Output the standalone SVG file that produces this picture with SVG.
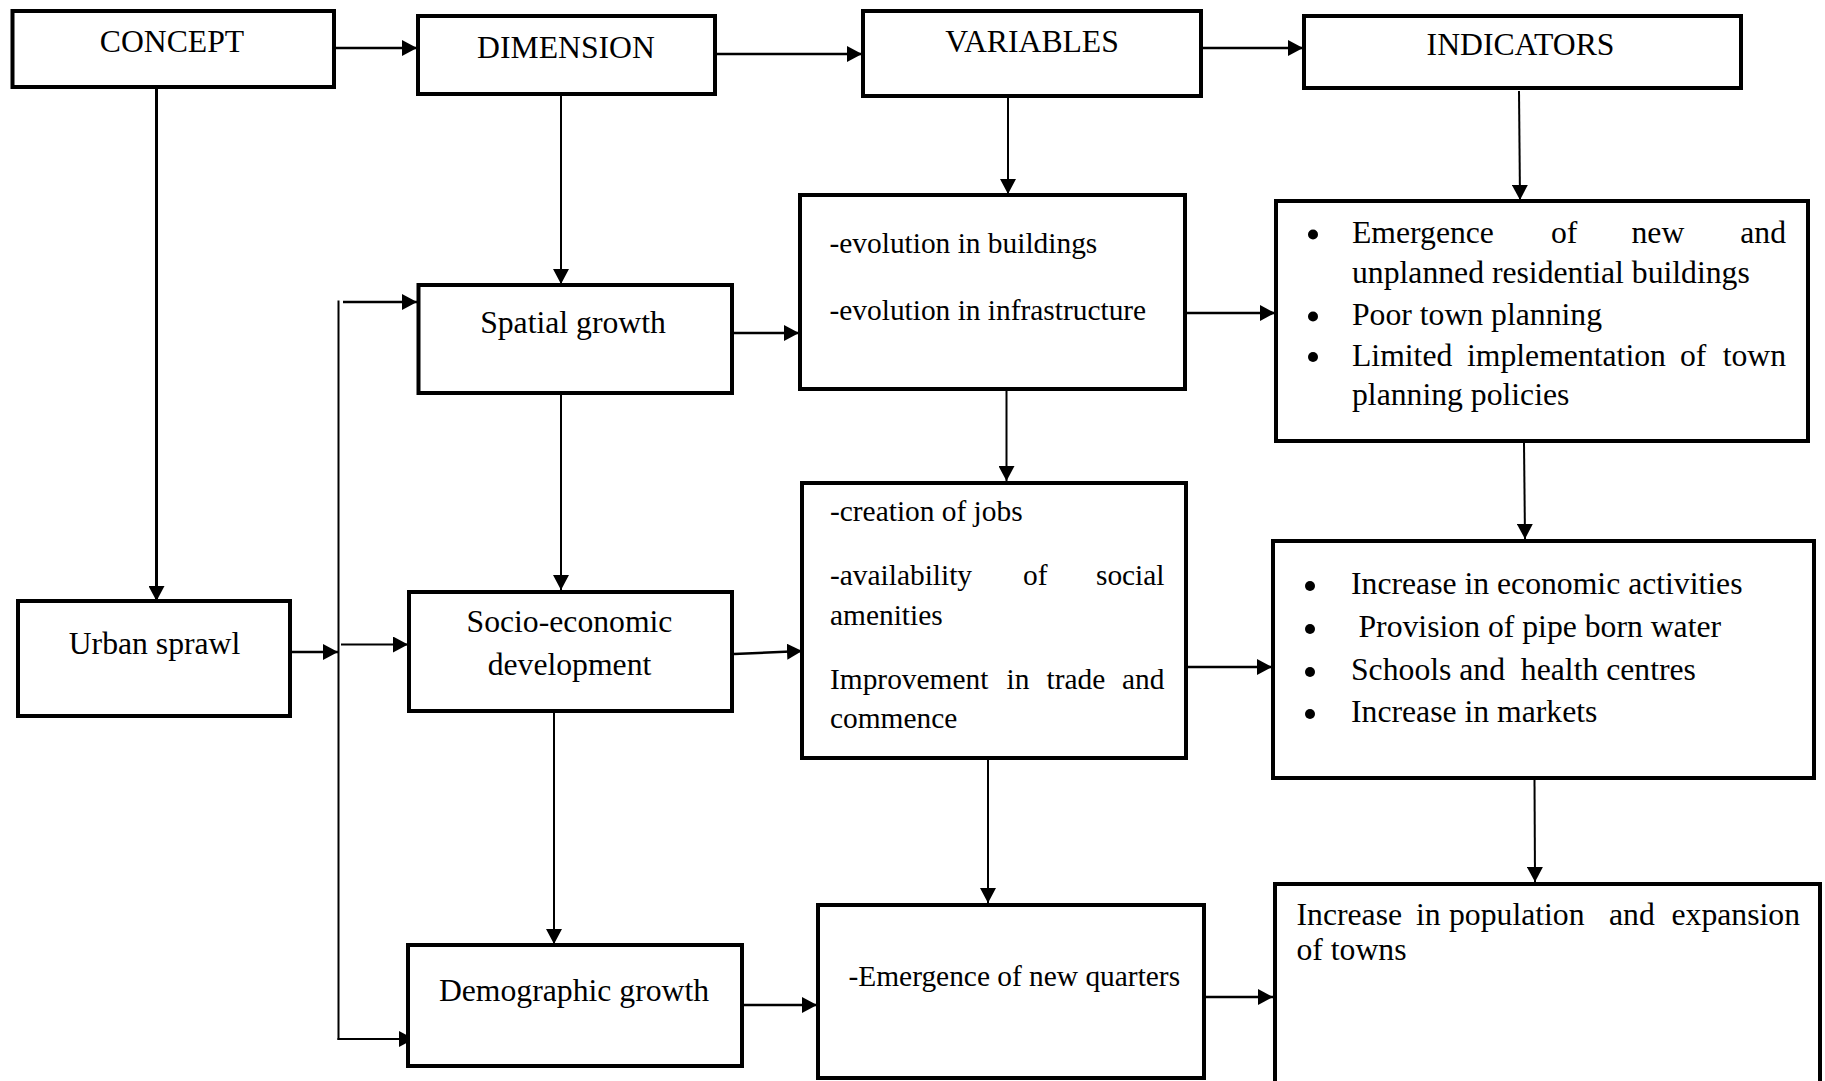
<svg xmlns="http://www.w3.org/2000/svg" width="1825" height="1081" viewBox="0 0 1825 1081">
<style>
.box{fill:#fff;stroke:#000;stroke-width:4}
.h{font-family:"Liberation Serif","Times New Roman",serif;font-size:31.7px;fill:#000;text-anchor:middle}
.v{font-family:"Liberation Serif","Times New Roman",serif;font-size:29.4px;fill:#000}
.i{font-family:"Liberation Serif","Times New Roman",serif;font-size:31.7px;fill:#000}
.c{stroke:#000;fill:none;marker-end:url(#ah)}
.thin{stroke-width:2}
.thick{stroke-width:2.6}
.b{fill:#000}
</style>
<defs>
<marker id="ah" viewBox="0 0 15 16" refX="15" refY="8" markerWidth="15" markerHeight="16" markerUnits="userSpaceOnUse" orient="auto">
<path d="M0,0 L15,8 L0,16 z" fill="#000"/>
</marker>
</defs>
<rect width="1825" height="1081" fill="#fff"/>

<g id="connectors">
<line class="c thick" x1="336" y1="48" x2="417" y2="48"/>
<line class="c thick" x1="717" y1="54" x2="862" y2="54"/>
<line class="c thick" x1="1203" y1="48" x2="1303" y2="48"/>
<line class="c" style="stroke-width:3" x1="156.5" y1="89" x2="156.5" y2="601"/>
<line class="c thin" x1="561" y1="96" x2="561" y2="284"/>
<line class="c thin" x1="1008" y1="92" x2="1008" y2="194"/>
<line class="c thin" x1="1519" y1="91" x2="1520" y2="200"/>
<line class="c thick" x1="734" y1="333" x2="799" y2="333"/>
<line class="c thick" x1="1187" y1="313" x2="1275" y2="313"/>
<line class="c thin" x1="561" y1="395" x2="561" y2="590"/>
<line class="c thin" x1="1006.5" y1="391" x2="1006.5" y2="481"/>
<line class="c thin" x1="1524" y1="443" x2="1525" y2="539"/>
<line class="c thick" x1="290" y1="652" x2="338" y2="652"/>
<line stroke="#000" stroke-width="2" x1="338.5" y1="300.5" x2="338.5" y2="1040"/>
<line class="c thick" x1="343" y1="302" x2="417" y2="302"/>
<line class="c thin" x1="341" y1="644.5" x2="408" y2="644.5"/>
<line class="c thin" x1="337.5" y1="1039" x2="414" y2="1039"/>
<line class="c thick" x1="734" y1="654" x2="802" y2="651"/>
<line class="c thick" x1="1188" y1="667" x2="1272" y2="667"/>
<line class="c thin" x1="554" y1="709" x2="554" y2="944"/>
<line class="c thin" x1="988" y1="755" x2="988" y2="903"/>
<line class="c thin" x1="1534.5" y1="780" x2="1535" y2="882"/>
<line class="c thick" x1="744" y1="1005" x2="817" y2="1005"/>
<line class="c thick" x1="1206" y1="997" x2="1273" y2="997"/>
</g>

<g id="concept">
<rect class="box" x="12.5" y="11" width="321.5" height="76"/>
<text class="h" x="172" y="52">CONCEPT</text>
</g>
<g id="dimension">
<rect class="box" x="418" y="16" width="297" height="78"/>
<text class="h" x="566" y="58">DIMENSION</text>
</g>
<g id="variables">
<rect class="box" x="863" y="11" width="338" height="85"/>
<text class="h" x="1032" y="52">VARIABLES</text>
</g>
<g id="indicators">
<rect class="box" x="1304" y="16" width="437" height="72"/>
<text class="h" x="1520.5" y="55">INDICATORS</text>
</g>

<g id="spatial-growth">
<rect class="box" x="418.5" y="285" width="313.5" height="108"/>
<text class="h" x="573" y="333">Spatial growth</text>
</g>
<g id="var-spatial">
<rect class="box" x="800" y="195" width="385" height="194"/>
<text class="v" x="829.5" y="253">-evolution in buildings</text>
<text class="v" x="829.5" y="320">-evolution in infrastructure</text>
</g>
<g id="ind-spatial">
<rect class="box" x="1276" y="201" width="532" height="240"/>
<circle class="b" cx="1313" cy="234.5" r="5"/>
<circle class="b" cx="1313" cy="316.5" r="5"/>
<circle class="b" cx="1313" cy="357" r="5"/>
<text class="i" y="243"><tspan x="1352">Emergence</tspan><tspan x="1551">of</tspan><tspan x="1631.5">new</tspan><tspan x="1786" text-anchor="end">and</tspan></text>
<text class="i" x="1352" y="283">unplanned residential buildings</text>
<text class="i" x="1352" y="325">Poor town planning</text>
<text class="i" y="366"><tspan x="1352">Limited</tspan><tspan x="1467">implementation</tspan><tspan x="1680">of</tspan><tspan x="1786" text-anchor="end">town</tspan></text>
<text class="i" x="1352" y="405">planning policies</text>
</g>

<g id="urban-sprawl">
<rect class="box" x="18" y="601" width="272" height="115"/>
<text class="h" x="154.5" y="654">Urban sprawl</text>
</g>

<g id="socio-economic">
<rect class="box" x="409" y="592" width="323" height="119"/>
<text class="h" x="569.5" y="632">Socio-economic</text>
<text class="h" x="569.5" y="674.5">development</text>
</g>
<g id="var-socio">
<rect class="box" x="802" y="483" width="384" height="275"/>
<text class="v" x="830" y="521">-creation of jobs</text>
<text class="v" y="585"><tspan x="830">-availability</tspan><tspan x="1023">of</tspan><tspan x="1164.5" text-anchor="end">social</tspan></text>
<text class="v" x="830" y="625">amenities</text>
<text class="v" y="689"><tspan x="830">Improvement</tspan><tspan x="1006.5">in</tspan><tspan x="1046.5">trade</tspan><tspan x="1164.5" text-anchor="end">and</tspan></text>
<text class="v" x="830" y="728">commence</text>
</g>
<g id="ind-socio">
<rect class="box" x="1273" y="541" width="541" height="237"/>
<circle class="b" cx="1310" cy="586" r="5"/>
<circle class="b" cx="1310" cy="629" r="5"/>
<circle class="b" cx="1310" cy="672" r="5"/>
<circle class="b" cx="1310" cy="714" r="5"/>
<text class="i" x="1351" y="594">Increase in economic activities</text>
<text class="i" x="1358.5" y="637">Provision of pipe born water</text>
<text class="i" x="1351" y="680" xml:space="preserve">Schools and  health centres</text>
<text class="i" x="1351" y="722">Increase in markets</text>
</g>

<g id="demographic-growth">
<rect class="box" x="408" y="945" width="334" height="121"/>
<text class="h" x="574" y="1001">Demographic growth</text>
</g>
<g id="var-demographic">
<rect class="box" x="818" y="905" width="386" height="173"/>
<text class="v" x="848.5" y="986">-Emergence of new quarters</text>
</g>
<g id="ind-demographic">
<rect class="box" x="1275" y="884" width="545" height="230"/>
<text class="i" y="925"><tspan x="1296.5">Increase</tspan><tspan x="1416">in</tspan><tspan x="1449">population</tspan><tspan x="1609">and</tspan><tspan x="1800" text-anchor="end">expansion</tspan></text>
<text class="i" x="1296.5" y="960">of towns</text>
</g>
</svg>
